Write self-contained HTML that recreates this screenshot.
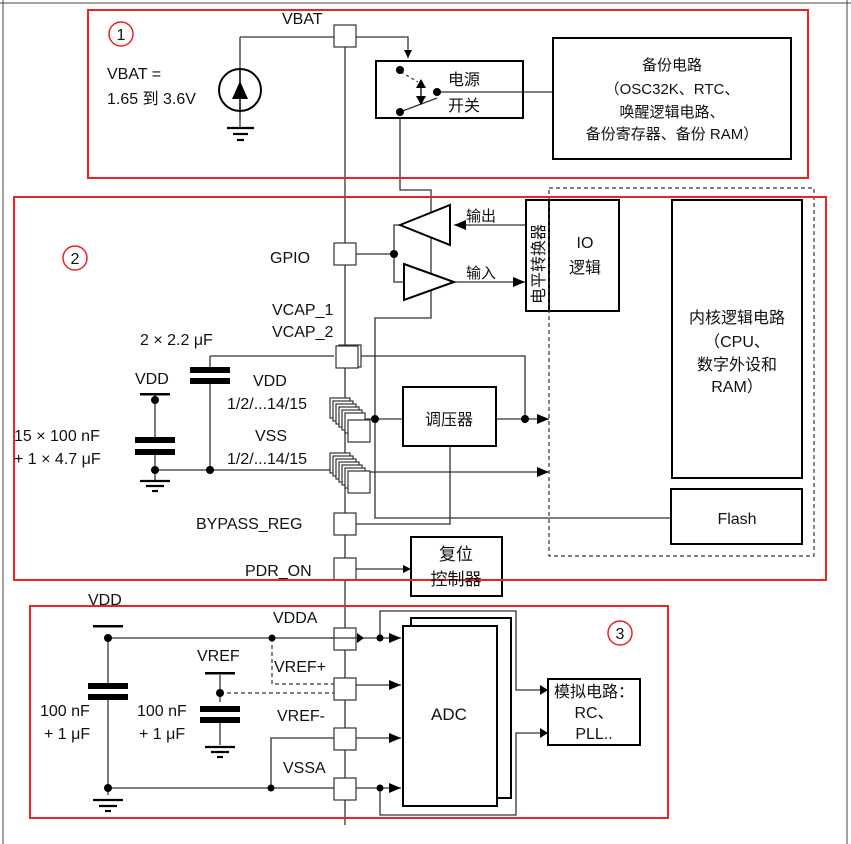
<!DOCTYPE html>
<html><head><meta charset="utf-8"><style>
html,body{margin:0;padding:0;background:#fff;width:851px;height:844px;overflow:hidden}
svg{display:block}
text{font-family:"Liberation Sans","Noto Sans CJK SC",sans-serif;fill:#111}
.c{font-family:"Liberation Sans","Noto Sans CJK SC",sans-serif}
</style></head><body>
<svg width="851" height="844" viewBox="0 0 851 844" xmlns="http://www.w3.org/2000/svg">
<defs>
<marker id="a" markerWidth="8" markerHeight="8" refX="8" refY="4" orient="auto" markerUnits="userSpaceOnUse"><path d="M0,0 L8,4 L0,8z" fill="#000"/></marker>
<marker id="b" markerWidth="12" markerHeight="10" refX="12" refY="5" orient="auto" markerUnits="userSpaceOnUse"><path d="M0,0 L12,5 L0,10z" fill="#000"/></marker>
</defs>
<line x1="3" y1="0" x2="3" y2="844" stroke="#444" stroke-width="1"/>
<line x1="847" y1="0" x2="847" y2="844" stroke="#444" stroke-width="1"/>
<line x1="0" y1="3" x2="851" y2="3" stroke="#444" stroke-width="1"/>

<g fill="none" stroke="#333" stroke-width="1.3">
<line x1="345" y1="46" x2="345" y2="825"/>
<polyline points="240,37 334,37"/>
<line x1="240" y1="37" x2="240" y2="120"/>
<polyline points="356,37 408,37 408,58" marker-end="url(#a)"/>
<line x1="523" y1="92" x2="553" y2="92"/>
<polyline points="400,118 400,190 431,190 431,318 375,318 375,518 672,518"/>
<line x1="356" y1="254" x2="394" y2="254"/>
<polyline points="400,225 394,225 394,282 404,282"/>
<line x1="525" y1="225" x2="454" y2="225" marker-end="url(#b)"/>
<line x1="454" y1="282" x2="525" y2="282" marker-end="url(#b)"/>
<polyline points="210,356 334,356"/>
<polyline points="358,356 525,356 525,419"/>
<line x1="362" y1="419" x2="403" y2="419"/>
<line x1="496" y1="419" x2="549" y2="419" marker-end="url(#b)"/>
<line x1="155" y1="470" x2="335" y2="470"/>
<line x1="365" y1="472" x2="549" y2="472" marker-end="url(#b)"/>
<polyline points="356,524 450,524 450,446"/>
<line x1="356" y1="569" x2="411" y2="569" marker-end="url(#a)"/>
<line x1="155" y1="395" x2="155" y2="437"/>
<line x1="155" y1="455" x2="155" y2="480"/>
<line x1="210" y1="356" x2="210" y2="367"/>
<line x1="210" y1="383" x2="210" y2="470"/>
<line x1="108" y1="638" x2="108" y2="683"/>
<line x1="108" y1="700" x2="108" y2="795"/>
<line x1="108" y1="638" x2="334" y2="638"/>
<line x1="108" y1="788" x2="334" y2="788"/>
<polyline points="271,788 271,738 334,738"/>
<line x1="220" y1="675" x2="220" y2="702"/>
<line x1="220" y1="718" x2="220" y2="745"/>
<line x1="356" y1="638" x2="401" y2="638" marker-end="url(#b)"/>
<line x1="356" y1="685" x2="401" y2="685" marker-end="url(#b)"/>
<line x1="356" y1="738" x2="401" y2="738" marker-end="url(#b)"/>
<line x1="356" y1="788" x2="401" y2="788" marker-end="url(#b)"/>
<polyline points="380,638 380,611 516,611 516,690 548,690"/>
<polyline points="380,788 380,815 516,815 516,733 548,733"/>
</g>
<g stroke="#333" stroke-width="1.2" fill="none" stroke-dasharray="4,3">
<polyline points="272,638 272,684 334,684"/>
<line x1="220" y1="693" x2="334" y2="693"/>
</g>
<path d="M540,685 L548,690 L540,695z M540,728 L548,733 L540,738z" fill="#000"/>

<g fill="#000">
<circle cx="394" cy="254" r="4"/><circle cx="375" cy="419" r="4"/><circle cx="525" cy="419" r="4"/>
<circle cx="210" cy="470" r="4"/><circle cx="155" cy="470" r="4"/><circle cx="155" cy="400" r="4"/>
<circle cx="108" cy="638" r="4"/><circle cx="108" cy="788" r="4"/><circle cx="272" cy="638" r="3.5"/>
<circle cx="271" cy="788" r="3.5"/><circle cx="220" cy="693" r="4"/><circle cx="380" cy="638" r="3.5"/><circle cx="380" cy="788" r="3.5"/>
</g>
<g fill="#000">
<rect x="135" y="437" width="40" height="6"/><rect x="135" y="449" width="40" height="6"/>
<rect x="190" y="367" width="40" height="6"/><rect x="190" y="378" width="40" height="6"/>
<rect x="88" y="683" width="40" height="6"/><rect x="88" y="694" width="40" height="6"/>
<rect x="200" y="706" width="40" height="6"/><rect x="200" y="717" width="40" height="6"/>
<rect x="140" y="393" width="30" height="2.5"/><rect x="93" y="625" width="30" height="2.5"/><rect x="205" y="672" width="30" height="2.5"/>
</g>
<g stroke="#000" stroke-width="2.2">
<line x1="140" y1="481" x2="170" y2="481"/><line x1="146" y1="486" x2="164" y2="486"/><line x1="152" y1="491" x2="158" y2="491"/>
<line x1="227" y1="128" x2="254" y2="128"/><line x1="233" y1="134" x2="248" y2="134"/><line x1="237" y1="140" x2="244" y2="140"/>
<line x1="93" y1="800" x2="123" y2="800"/><line x1="99" y1="806" x2="117" y2="806"/><line x1="105" y1="811" x2="111" y2="811"/>
<line x1="205" y1="747" x2="235" y2="747"/><line x1="211" y1="752" x2="229" y2="752"/><line x1="217" y1="757" x2="223" y2="757"/>
</g>
<line x1="240" y1="110" x2="240" y2="128" stroke="#333" stroke-width="1.3"/>
<circle cx="240" cy="90" r="21" fill="#fff" stroke="#000" stroke-width="2"/>
<line x1="240" y1="69" x2="240" y2="111" stroke="#000" stroke-width="1.5"/>
<path d="M232,99 L240,81 L248,99z" fill="#000"/>

<g fill="#fff" stroke="#000" stroke-width="2">
<rect x="376" y="61" width="147" height="57"/>
<rect x="553" y="38" width="238" height="121"/>
<rect x="526" y="200" width="23" height="111"/>
<rect x="549" y="200" width="70" height="111"/>
<rect x="672" y="200" width="130" height="278"/>
<rect x="671" y="489" width="131" height="55"/>
<rect x="403" y="387" width="93" height="59"/>
<rect x="411" y="537" width="91" height="59"/>
<rect x="411" y="618" width="100" height="180"/>
<rect x="403" y="626" width="94" height="180"/>
<rect x="548" y="679" width="92" height="66"/>
</g>
<!-- switch internals -->
<line x1="437" y1="92" x2="523" y2="92" stroke="#333" stroke-width="1.3"/>
<line x1="400" y1="112" x2="437" y2="98" stroke="#333" stroke-width="1.3"/>
<line x1="401" y1="72" x2="418" y2="82" stroke="#333" stroke-width="1.2" stroke-dasharray="3,3"/>
<line x1="421" y1="80" x2="421" y2="103" stroke="#000" stroke-width="1.3"/>
<path d="M416,88 L421,79 L426,88z M416,96 L421,105 L426,96z" fill="#000"/>
<g fill="#000"><circle cx="400" cy="70" r="4"/><circle cx="400" cy="112" r="4"/><circle cx="437" cy="92" r="4"/></g>
<path d="M400,225 L450,205 L450,245z" fill="#fff" stroke="#000" stroke-width="2"/>
<path d="M404,264 L454,282 L404,300z" fill="#fff" stroke="#000" stroke-width="2"/>
<rect x="549" y="188" width="265" height="368" fill="none" stroke="#333" stroke-width="1.2" stroke-dasharray="4,3"/>
<g fill="#fff" stroke="#333" stroke-width="1.2">
<rect x="334" y="25" width="22" height="22"/>
<rect x="334" y="243" width="22" height="22"/>
<rect x="339" y="345" width="22" height="22"/><rect x="336" y="346" width="22" height="22"/>
<rect x="330" y="398" width="20" height="20"/><rect x="333" y="401" width="20" height="20"/><rect x="336" y="404" width="20" height="20"/><rect x="339" y="407" width="20" height="20"/><rect x="342" y="410" width="20" height="20"/><rect x="345" y="413" width="20" height="20"/><rect x="348" y="420" width="22" height="22"/>
<rect x="330" y="453" width="20" height="20"/><rect x="333" y="456" width="20" height="20"/><rect x="336" y="459" width="20" height="20"/><rect x="339" y="462" width="20" height="20"/><rect x="342" y="465" width="20" height="20"/><rect x="345" y="468" width="20" height="20"/><rect x="348" y="471" width="22" height="22"/>
<rect x="334" y="513" width="22" height="22"/>
<rect x="334" y="558" width="22" height="22"/>
<rect x="334" y="628" width="22" height="22"/>
<rect x="334" y="678" width="22" height="22"/>
<rect x="334" y="728" width="22" height="22"/>
<rect x="334" y="778" width="22" height="22"/>
</g>
<line x1="330" y1="638" x2="356" y2="638" stroke="#333" stroke-width="1.3"/>
<path d="M357,633 L364,638 L357,643z" fill="#000"/>

<g fill="none" stroke="#ee2222" stroke-width="2">
<rect x="88" y="10" width="720" height="168"/>
<rect x="14" y="197" width="812" height="383"/>
<rect x="30" y="606" width="638" height="212"/>
</g>
<g fill="none" stroke="#ee2222" stroke-width="1.5">
<circle cx="121" cy="34" r="12"/><circle cx="75" cy="258" r="12"/><circle cx="620" cy="633" r="12"/>
</g>
<g text-anchor="middle">
<text x="121" y="40" fill="#ee2222" font-size="16">1</text>
<text x="75" y="264" fill="#ee2222" font-size="16">2</text>
<text x="620" y="639" fill="#ee2222" font-size="16">3</text>
</g>

<g font-size="16">
<text x="282" y="24">VBAT</text>
<text x="107" y="79">VBAT =</text>
<text x="107" y="104">1.65 到 3.6V</text>
<text x="448" y="85" fill="#333">电源</text>
<text x="448" y="111" fill="#333">开关</text>
<text x="672" y="70" text-anchor="middle" font-size="15">备份电路</text>
<text x="672" y="94" text-anchor="middle" font-size="15">（OSC32K、RTC、</text>
<text x="672" y="117" text-anchor="middle" font-size="15">唤醒逻辑电路、</text>
<text x="672" y="139" text-anchor="middle" font-size="15">备份寄存器、备份 RAM）</text>
<text x="270" y="263">GPIO</text>
<text x="466" y="221" fill="#333" font-size="15">输出</text>
<text x="466" y="278" fill="#333" font-size="15">输入</text>
<text x="585" y="248" text-anchor="middle">IO</text>
<text x="585" y="273" text-anchor="middle" fill="#333">逻辑</text>
<text transform="translate(544,304) rotate(-90)" font-size="16" fill="#333">电平转换器</text>
<text x="737" y="323" text-anchor="middle" fill="#333">内核逻辑电路</text>
<text x="737" y="347" text-anchor="middle">（CPU、</text>
<text x="737" y="370" text-anchor="middle" fill="#333">数字外设和</text>
<text x="737" y="392" text-anchor="middle">RAM）</text>
<text x="737" y="524" text-anchor="middle">Flash</text>
<text x="272" y="315">VCAP_1</text>
<text x="272" y="337">VCAP_2</text>
<text x="140" y="345">2 × 2.2 μF</text>
<text x="135" y="384">VDD</text>
<text x="253" y="386">VDD</text>
<text x="227" y="409">1/2/...14/15</text>
<text x="255" y="441">VSS</text>
<text x="227" y="464">1/2/...14/15</text>
<text x="14" y="441">15 × 100 nF</text>
<text x="14" y="464">+ 1 × 4.7 μF</text>
<text x="449" y="425" text-anchor="middle" fill="#333">调压器</text>
<text x="196" y="529">BYPASS_REG</text>
<text x="245" y="576">PDR_ON</text>
<text x="456" y="560" text-anchor="middle" fill="#333" font-size="17">复位</text>
<text x="456" y="585" text-anchor="middle" fill="#333" font-size="17">控制器</text>
<text x="88" y="605">VDD</text>
<text x="273" y="623">VDDA</text>
<text x="197" y="661">VREF</text>
<text x="274" y="672">VREF+</text>
<text x="277" y="721">VREF-</text>
<text x="283" y="773">VSSA</text>
<text x="40" y="716">100 nF</text>
<text x="44" y="739">+ 1 μF</text>
<text x="137" y="716">100 nF</text>
<text x="139" y="739">+ 1 μF</text>
<text x="449" y="720" text-anchor="middle" font-size="17">ADC</text>
<text x="594" y="697" text-anchor="middle" fill="#333">模拟电路：</text>
<text x="594" y="718" text-anchor="middle">RC、</text>
<text x="594" y="739" text-anchor="middle">PLL..</text>
</g>
</svg>
</body></html>
